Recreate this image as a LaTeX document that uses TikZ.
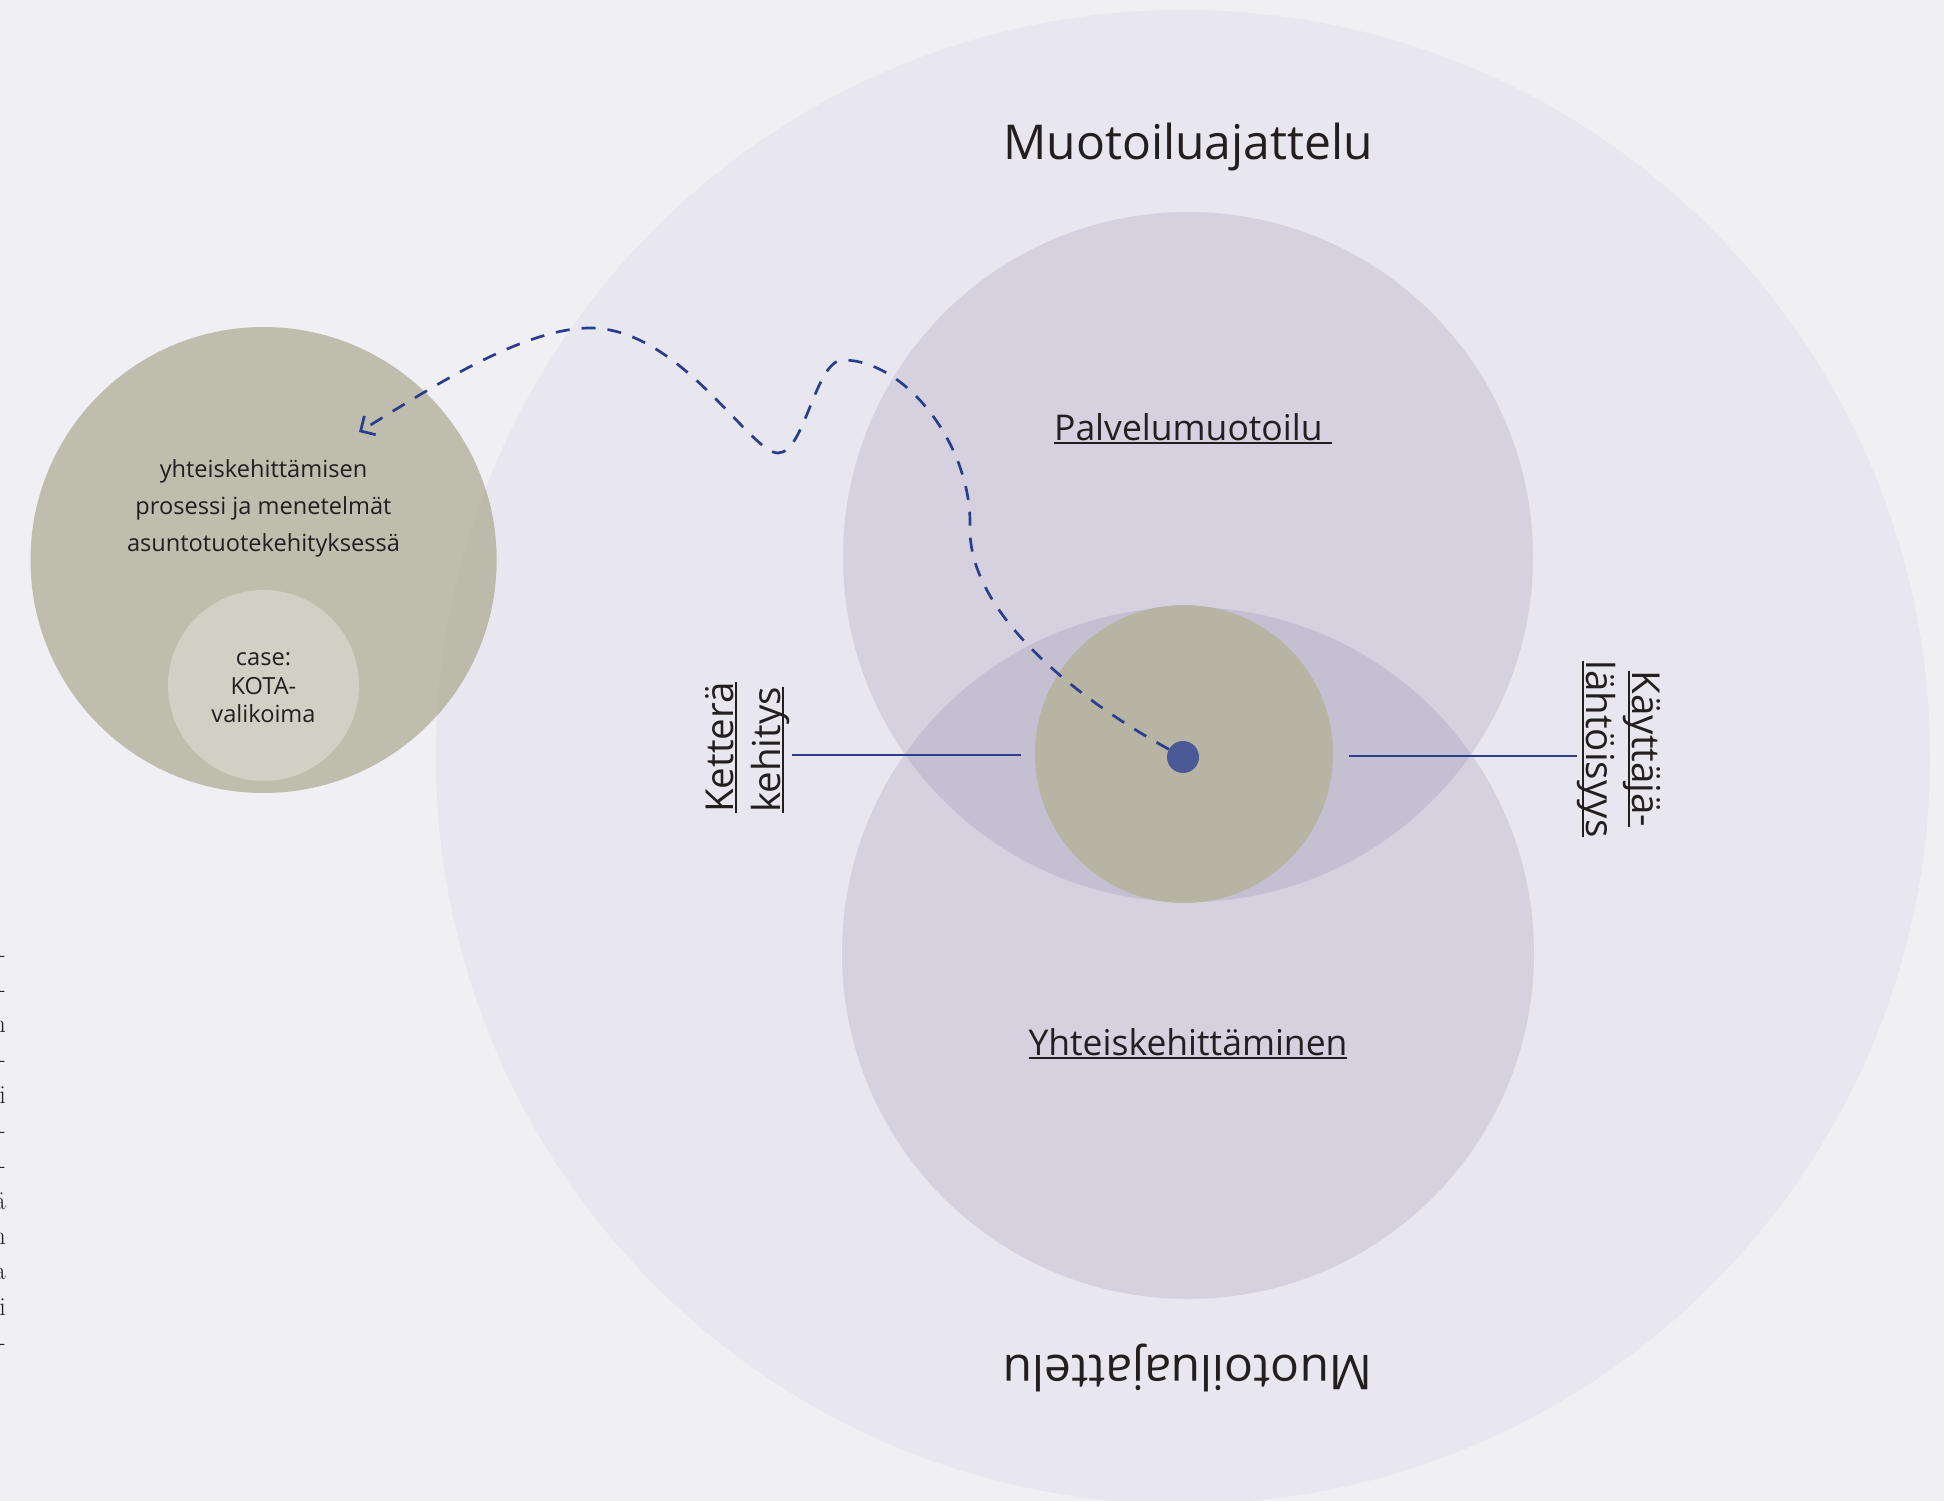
\documentclass[tikz,border=0pt]{standalone}
\usepackage{fontspec}
\newfontfamily\osans{Open Sans}
\usetikzlibrary{arrows.meta}

\definecolor{bgc}{HTML}{F0EFF4}
\definecolor{outerc}{HTML}{E8E6EF}
\definecolor{midc}{HTML}{D5D1DF}
\definecolor{lensc}{HTML}{C4C0D2}
\definecolor{corec}{HTML}{B7B4A4}
\definecolor{leftc}{HTML}{BFBDAE}
\definecolor{leftdark}{HTML}{BCBAAB}
\definecolor{casec}{HTML}{D2D0C4}
\definecolor{dotc}{HTML}{4A5A96}
\definecolor{linkc}{HTML}{2B3E8C}
\definecolor{ink}{HTML}{231F20}

% underline at a fixed depth below the baseline (descenders cross it)
\newsavebox\ulbox
\newcommand\undl[1]{\sbox\ulbox{#1}\leavevmode\rlap{\rule[-0.11em]{\wd\ulbox}{0.055em}}\usebox\ulbox}

\begin{document}
\begin{tikzpicture}[x=1pt,y=-1pt,
  every node/.style={inner sep=0pt, text=ink},
  disc/.style={circle, draw=none, inner sep=0pt, minimum size=#1},
  titletext/.style={font=\osans\fontsize{48}{52}\selectfont},
  areatext/.style={font=\osans\fontsize{35.5}{40}\selectfont},
  sidetext/.style={font=\osans\fontsize{38.5}{44}\selectfont},
  smalltext/.style={font=\osans\fontsize{23.6}{37}\selectfont, align=center},
  casetext/.style={font=\osans\fontsize{23.6}{28.5}\selectfont, align=center},
  fragtext/.style={font=\fontsize{26}{30}\selectfont},
  link/.style={draw=linkc, line width=2.5pt},
  route/.style={draw=linkc, line width=2.7pt, dash pattern=on 14pt off 12pt,
    -{Straight Barb[length=11pt,width=22pt]}}]

\useasboundingbox (0,0) rectangle (1944,1501);
\fill[bgc] (0,0) rectangle (1944,1501);

% nested discs
\node[disc=1494pt, fill=outerc] (mindset) at (1183,757) {};
\node[disc=690pt, fill=midc] (service) at (1188,557) {};
\node[disc=692pt, fill=midc] (codevel) at (1188,953) {};
\begin{scope}
  \clip (1188,557) circle[radius=345pt];
  \fill[lensc] (1188,953) circle[radius=346pt];
\end{scope}

% study disc on the left
\node[disc=466pt, fill=leftc] (study) at (263.5,560) {};
\begin{scope}
  \clip (1183,757) circle[radius=747pt];
  \fill[leftdark] (263.5,560) circle[radius=233pt];
\end{scope}
\node[disc=191pt, fill=casec] (case) at (263.5,685.5) {};

% core and its centre point
\node[disc=298pt, fill=corec] (core) at (1184,754) {};
\node[disc=32pt, fill=dotc] (dot) at (1183,757) {};

% side connectors
\coordinate (agileend) at (792,755);
\coordinate (agilestart) at (1021,755);
\coordinate (userstart) at (1349,756);
\coordinate (userend) at (1577,756);
\draw[link] (agilestart) -- (agileend);
\draw[link] (userstart) -- (userend);

% dashed route from the core to the study disc
\coordinate (tip) at (359,432);
\draw[route] (dot) .. controls (1070,695) and (968,610) .. (970,527)
  .. controls (972,445) and (905,360) .. (843,360)
  .. controls (815,360) and (805,453) .. (778,453)
  .. controls (750,453) and (680,328) .. (590,328)
  .. controls (520,328) and (420,395) .. (tip);

% labels
\node[titletext, anchor=base] (toptitle) at (1188,160) {Muotoiluajattelu};
\node[titletext, anchor=base, rotate=180] (bottomtitle) at (1188,1355) {Muotoiluajattelu};
\node[areatext, anchor=base] (servicelabel) at (1193,440) {\undl{Palvelumuotoilu\ }};
\node[areatext, anchor=base] (codevlabel) at (1188,1055) {\undl{Yhteiskehittäminen}};

\node[sidetext, anchor=base west, rotate=90] (agileA) at (733,813) {\undl{Ketterä}};
\node[sidetext, anchor=base west, rotate=90] (agileB) at (780,813) {\undl{kehitys}};
\node[sidetext, anchor=base, rotate=-90] (userA) at (1632,749) {\undl{Käyttäjä-}};
\node[sidetext, anchor=base, rotate=-90] (userB) at (1586,749) {\undl{lähtöisyys}};

\node[smalltext] (studylabel) at (263.5,508)
  {yhteiskehittämisen\\prosessi ja menetelmät\\asuntotuotekehityksessä};
\node[casetext] (caselabel) at (263.5,688) {case:\\KOTA-\\valikoima};

% line ends of the neighbouring text column
\foreach \c [count=\i] in {-,-,n,-,i,-,-,ä,n,a,i,-}
  \node[fragtext, anchor=base east] (frag\i) at (6,962+35.3*\i-35.3) {\c};

\end{tikzpicture}
\end{document}
